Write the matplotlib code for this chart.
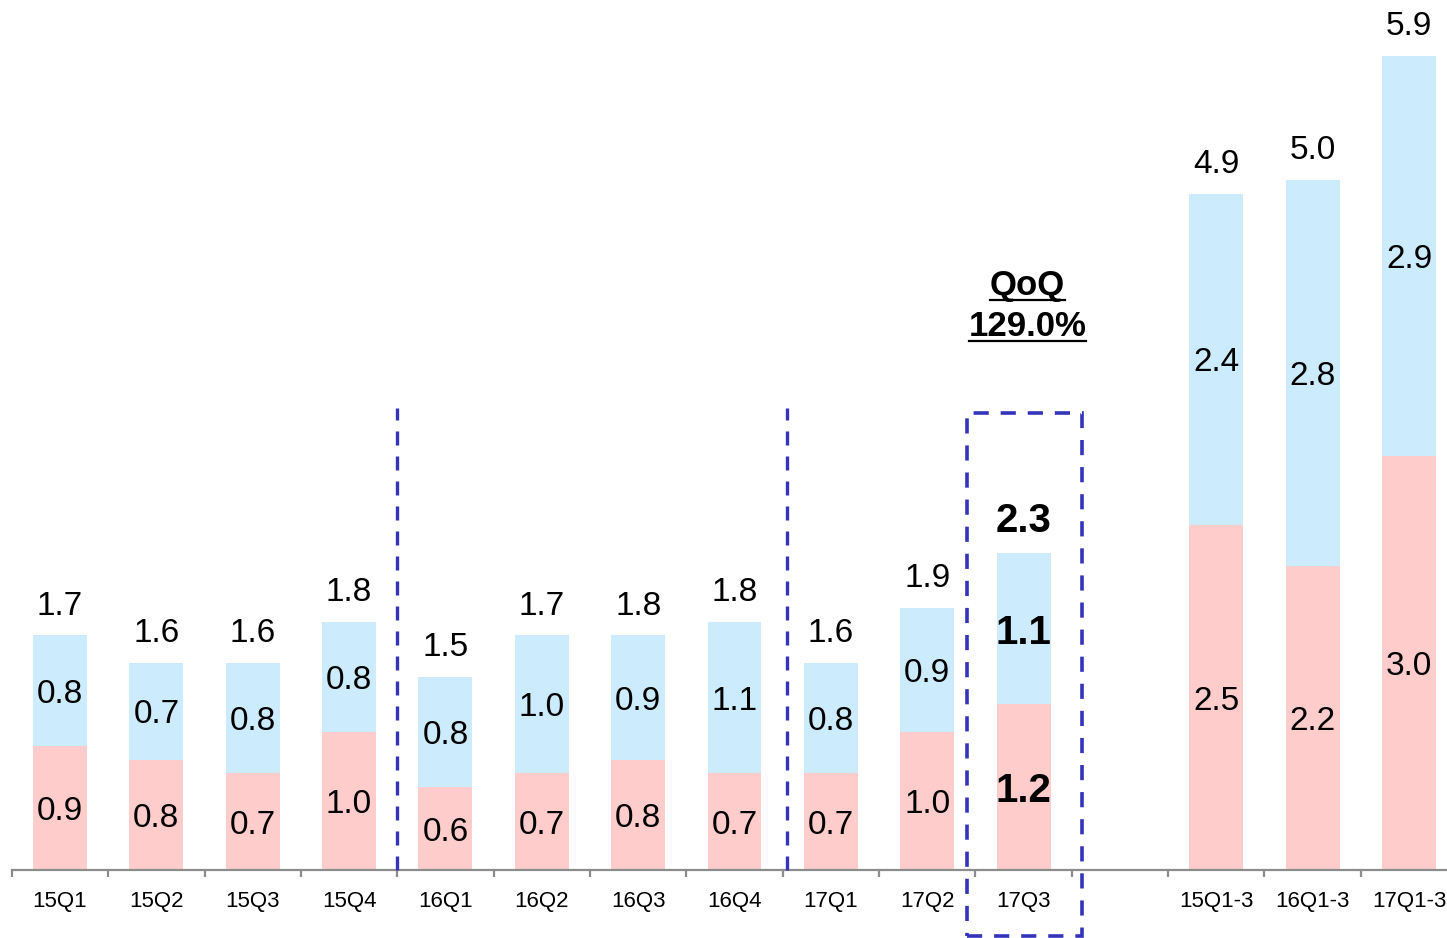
import matplotlib
matplotlib.use("Agg")
import matplotlib.pyplot as plt
from matplotlib.patches import Rectangle
from matplotlib.lines import Line2D

plt.rcParams["font.family"] = ["Liberation Sans", "DejaVu Sans"]

# quarterly figures, then a blank slot, then the Q1-3 totals
quarters = ["15Q1", "15Q2", "15Q3", "15Q4", "16Q1", "16Q2", "16Q3", "16Q4",
            "17Q1", "17Q2", "17Q3"]
ytd = ["15Q1-3", "16Q1-3", "17Q1-3"]
lower_q = [0.9, 0.8, 0.7, 1.0, 0.6, 0.7, 0.8, 0.7, 0.7, 1.0, 1.2]
upper_q = [0.8, 0.7, 0.8, 0.8, 0.8, 1.0, 0.9, 1.1, 0.8, 0.9, 1.1]
total_q = [1.7, 1.6, 1.6, 1.8, 1.5, 1.7, 1.8, 1.8, 1.6, 1.9, 2.3]
lower_ytd = [2.5, 2.2, 3.0]
upper_ytd = [2.4, 2.8, 2.9]
total_ytd = [4.9, 5.0, 5.9]
qoq_text = "QoQ"
qoq_value = "129.0%"

PINK = "#FFCCCC"
BLUE = "#CCEBFC"
NAVY = "#3333BB"
DASH = (0, (4.2, 3.3))

labels = quarters + [""] + ytd
lower = lower_q + [0] + lower_ytd
upper = upper_q + [0] + upper_ytd
totals = total_q + [None] + total_ytd
x = list(range(len(labels)))
hi = quarters.index("17Q3")

W, H = 1447, 938
fig = plt.figure(figsize=(W / 100, H / 100), dpi=100)
ax = fig.add_axes([11.8 / W, 68 / H, 15 * 96.36 / W, 870 / H])
ax.set_xlim(-0.5, len(labels) - 0.5)
ax.set_ylim(0, 870 / 138)

bw = 0.56
for i in x:
    if totals[i] is None:
        continue
    ax.bar(i, lower[i], bw, color=PINK, zorder=2)
    ax.bar(i, upper[i], bw, bottom=lower[i], color=BLUE, zorder=2)
    bold = i == hi
    fs = 29 if bold else 24
    fw = "bold" if bold else "normal"
    ax.text(i, lower[i] / 2, f"{lower[i]:.1f}", ha="center",
            va="center_baseline", fontsize=fs, fontweight=fw, zorder=3)
    ax.text(i, lower[i] + upper[i] / 2, f"{upper[i]:.1f}", ha="center",
            va="center_baseline", fontsize=fs, fontweight=fw, zorder=3)
    ax.text(i, lower[i] + upper[i] + 0.15, f"{totals[i]:.1f}", ha="center",
            va="baseline", fontsize=fs, fontweight=fw, zorder=3)

# year separators
for xs in (3.5, 7.55):
    ax.plot([xs, xs], [0, 3.35], color=NAVY, lw=2.4, ls=DASH,
            zorder=4, clip_on=False)

# highlight box around the latest quarter
ax.add_patch(Rectangle((hi - 0.59, -0.48), 1.2, 3.79, fill=False,
                       edgecolor=NAVY, lw=2.6, ls=DASH,
                       clip_on=False, zorder=4))

for s in ("left", "right", "top"):
    ax.spines[s].set_visible(False)
ax.spines["bottom"].set_color("#8C8C8C")
ax.spines["bottom"].set_linewidth(1.6)
ax.set_yticks([])
ax.set_xticks([i + 0.5 for i in range(-1, len(labels))], minor=False)
ax.set_xticklabels([])
ax.set_xticks(x, minor=True)
ax.set_xticklabels(labels, minor=True, fontsize=16)
ax.tick_params(axis="x", which="major", direction="out", length=5,
               width=1.6, color="#8C8C8C")
ax.tick_params(axis="x", which="minor", length=0, pad=15)

# underlined QoQ note above the box
cx = 60 + (hi + 0.04) * 96.36
notes = []
for txt, base in ((qoq_text, 295), (qoq_value, 336)):
    t = fig.text(cx / W, (H - base) / H, txt, ha="center", va="baseline",
                 fontsize=25, fontweight="bold")
    notes.append((t, base))
fig.canvas.draw()
r = fig.canvas.get_renderer()
for t, base in notes:
    bb = t.get_window_extent(r)
    yl = (H - base - 5) / H
    fig.add_artist(Line2D([bb.x0 / W, bb.x1 / W], [yl, yl], color="black",
                          lw=1.6, transform=fig.transFigure))

fig.savefig("out.png", dpi=100)
